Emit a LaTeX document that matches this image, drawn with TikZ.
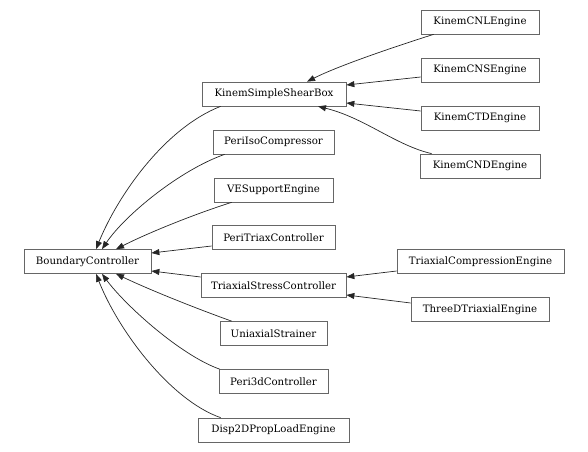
\documentclass[tikz,border=0pt]{standalone}
\usepackage{fontspec}
\setmainfont{DejaVu Serif}
\usetikzlibrary{arrows.meta}
\begin{document}
\begin{tikzpicture}[x=1bp,y=-1bp,
  cls/.style={draw=black!60,line width=0.7bp,fill=white,inner sep=0pt,minimum height=24bp,
    font=\fontsize{10.2bp}{12bp}\selectfont,text=black},
  edge/.style={draw=black!85,line width=0.7bp,-{Triangle[length=8bp,width=6bp]}}]
\useasboundingbox (0,0) rectangle (588,452);
% nodes
\node[cls,minimum width=127bp] (bc) at (87.5,261.5) {BoundaryController};
\node[cls,minimum width=144bp] (kssb) at (274,94) {KinemSimpleShearBox};
\node[cls,minimum width=121bp] (pic) at (273.5,142) {PeriIsoCompressor};
\node[cls,minimum width=119bp] (ves) at (273.5,190) {VESupportEngine};
\node[cls,minimum width=123bp] (ptc) at (273.5,237.5) {PeriTriaxController};
\node[cls,minimum width=145bp] (tsc) at (273.5,285.5) {TriaxialStressController};
\node[cls,minimum width=107bp] (us) at (273.5,333.5) {UniaxialStrainer};
\node[cls,minimum width=109bp] (p3d) at (273.5,381.5) {Peri3dController};
\node[cls,minimum width=151bp] (d2d) at (273.5,430) {Disp2DPropLoadEngine};
\node[cls,minimum width=118bp] (cnl) at (480,22) {KinemCNLEngine};
\node[cls,minimum width=118bp] (cns) at (480,70) {KinemCNSEngine};
\node[cls,minimum width=118bp] (ctd) at (480,118) {KinemCTDEngine};
\node[cls,minimum width=120bp] (cnd) at (480,166) {KinemCNDEngine};
\node[cls,minimum width=167bp] (tce) at (480.5,261.5) {TriaxialCompressionEngine};
\node[cls,minimum width=138bp] (tdte) at (480,309.5) {ThreeDTriaxialEngine};
% edges to BoundaryController
\draw[edge] ([xshift=19bp]kssb.south west) .. controls (165,128) and (118,195) .. ([xshift=8.5bp]bc.north);
\draw[edge] ([xshift=12bp]pic.south west) .. controls (180,170) and (125,215) .. ([xshift=14.5bp]bc.north);
\draw[edge] ([xshift=18bp]ves.south west) .. controls (195,214) and (150,232) .. ([xshift=28.5bp]bc.north);
\draw[edge] ([yshift=-8.5bp]ptc.west) -- ([yshift=8.5bp]bc.east);
\draw[edge] ([yshift=8.5bp]tsc.west) -- ([yshift=-9.5bp]bc.east);
\draw[edge] ([xshift=12bp]us.north west) .. controls (195,308) and (150,290) .. ([xshift=28.5bp]bc.south);
\draw[edge] ([xshift=1bp]p3d.north west) .. controls (180,355) and (125,305) .. ([xshift=14.5bp]bc.south);
\draw[edge] ([xshift=23bp]d2d.north west) .. controls (170,400) and (118,330) .. ([xshift=8.5bp]bc.south);
% edges to KinemSimpleShearBox
\draw[edge] ([xshift=13bp]cnl.south west) .. controls (400,45) and (340,65) .. ([xshift=33bp]kssb.north);
\draw[edge] ([yshift=-7bp]cns.west) -- ([yshift=9bp]kssb.east);
\draw[edge] ([yshift=7bp]ctd.west) -- ([yshift=-9bp]kssb.east);
\draw[edge] ([xshift=12bp]cnd.north west) .. controls (395,145) and (365,118) .. ([xshift=44bp]kssb.south);
% edges to TriaxialStressController
\draw[edge] ([yshift=-9.5bp]tce.west) -- ([yshift=8.5bp]tsc.east);
\draw[edge] ([yshift=6.5bp]tdte.west) -- ([yshift=-9.5bp]tsc.east);
\end{tikzpicture}
\end{document}
